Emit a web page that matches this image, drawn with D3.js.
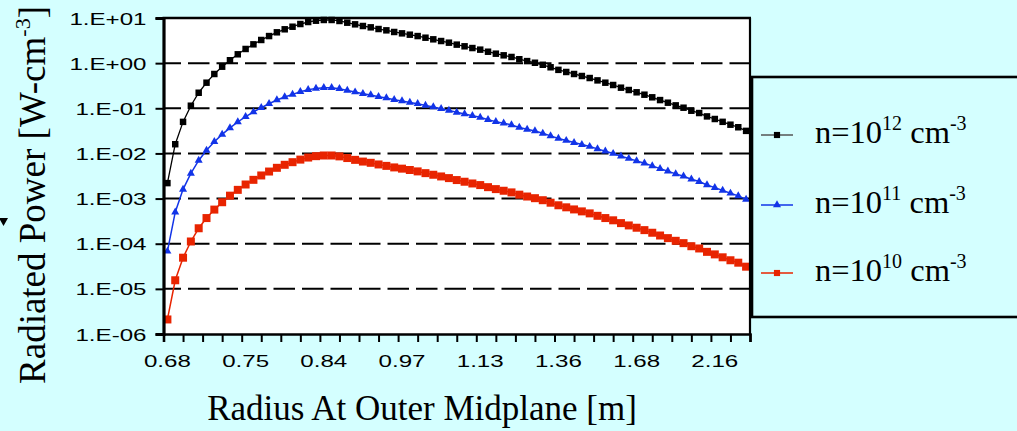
<!DOCTYPE html>
<html><head><meta charset="utf-8">
<script src="https://cdn.jsdelivr.net/npm/d3@7/dist/d3.min.js"></script>
<style>
html,body{margin:0;padding:0;background:#d4ffff;}
svg{display:block;}
</style></head>
<body>
<svg id="chart" width="1017" height="431"></svg>
<script>
// ---------- data ----------
const seriesNames = ["n=10^12", "n=10^11", "n=10^10"];
const legendExps = ["12", "11", "10"];
const xTickLabels = ["0.68", "0.75", "0.84", "0.97", "1.13", "1.36", "1.68", "2.16"];
const xLabelIndex = [0, 10, 20, 30, 40, 50, 60, 70];
const yTickValues = [1e-6, 1e-5, 1e-4, 1e-3, 1e-2, 1e-1, 1e0, 1e1];
const yTickLabels = ["1.E-06", "1.E-05", "1.E-04", "1.E-03", "1.E-02", "1.E-01", "1.E+00", "1.E+01"];

const n12 = [2.2e-3, 1.6e-2, 5.0e-2, 0.114, 0.221, 0.369, 0.575, 0.834, 1.16, 1.57,
  2.06, 2.61, 3.26, 3.98, 4.82, 5.62, 6.41, 7.36, 8.15, 8.71,
  9.04, 9.04, 8.59, 7.87, 7.24, 6.65, 6.21, 5.70, 5.33, 4.90,
  4.57, 4.27, 3.98, 3.66, 3.37, 3.09, 2.84, 2.57, 2.36, 2.16,
  1.99, 1.79, 1.62, 1.49, 1.37, 1.22, 1.11, 1.02, 0.92, 0.81,
  0.71, 0.637, 0.575, 0.519, 0.468, 0.415, 0.369, 0.328, 0.286, 0.254,
  0.226, 0.200, 0.175, 0.152, 0.133, 0.116, 0.103, 0.0883, 0.0785, 0.0661,
  0.0579, 0.0501, 0.0433, 0.0380, 0.0316];

const n11 = [6.8e-5, 5.0e-4, 1.6e-3, 3.6e-3, 7.0e-3, 1.17e-2, 1.82e-2, 2.64e-2, 3.67e-2, 4.97e-2,
  6.52e-2, 8.26e-2, 0.103, 0.126, 0.153, 0.178, 0.203, 0.233, 0.258, 0.276,
  0.286, 0.286, 0.272, 0.249, 0.229, 0.210, 0.197, 0.180, 0.169, 0.155,
  0.145, 0.135, 0.126, 0.116, 0.107, 0.0978, 0.0899, 0.0813, 0.0747, 0.0684,
  0.0630, 0.0559, 0.0506, 0.0466, 0.0428, 0.0375, 0.0342, 0.0314, 0.0279, 0.0245,
  0.0215, 0.0193, 0.0174, 0.0157, 0.0142, 0.0126, 0.0112, 0.00994, 0.00867, 0.00770,
  0.00685, 0.00606, 0.00530, 0.00461, 0.00403, 0.00352, 0.00312, 0.00268, 0.00238, 0.00200,
  0.00175, 0.00152, 0.00131, 0.00115, 0.00096];

const n10 = [2.1e-6, 1.55e-5, 4.9e-5, 1.12e-4, 2.2e-4, 3.7e-4, 5.7e-4, 8.3e-4, 1.16e-3, 1.56e-3,
  2.05e-3, 2.6e-3, 3.25e-3, 3.97e-3, 4.8e-3, 5.6e-3, 6.4e-3, 7.3e-3, 8.1e-3, 8.7e-3,
  9.0e-3, 9.0e-3, 8.6e-3, 7.9e-3, 7.2e-3, 6.6e-3, 6.2e-3, 5.7e-3, 5.3e-3, 4.9e-3,
  4.6e-3, 4.3e-3, 4.0e-3, 3.66e-3, 3.37e-3, 3.09e-3, 2.84e-3, 2.57e-3, 2.36e-3, 2.16e-3,
  1.99e-3, 1.79e-3, 1.62e-3, 1.49e-3, 1.37e-3, 1.22e-3, 1.11e-3, 1.02e-3, 9.2e-4, 8.1e-4,
  7.1e-4, 6.4e-4, 5.75e-4, 5.2e-4, 4.7e-4, 4.15e-4, 3.7e-4, 3.3e-4, 2.86e-4, 2.54e-4,
  2.26e-4, 2.0e-4, 1.75e-4, 1.52e-4, 1.33e-4, 1.16e-4, 1.03e-4, 8.8e-5, 7.85e-5, 6.6e-5,
  5.8e-5, 5.0e-5, 4.3e-5, 3.8e-5, 3.1e-5];

// ---------- layout ----------
const BG = "#d4ffff";
const pL = 163.5, pR = 750, pT = 18, pB = 334;
const nCat = n12.length;
const SX = 1.42; // horizontal stretch of tick fonts

const svg = d3.select("#chart");
svg.append("rect").attr("width", 1017).attr("height", 431).attr("fill", BG);

const x = d3.scaleLinear().domain([-0.5, nCat - 0.5]).range([pL, pR]);
const y = d3.scaleLog().domain([1e-6, 10]).range([pB, pT]);

// plot background
svg.append("rect").attr("x", pL).attr("y", pT).attr("width", pR - pL).attr("height", pB - pT).attr("fill", "#fff");

// gridlines
svg.append("g").selectAll("line").data(yTickValues.slice(1, -1)).join("line")
  .attr("x1", pL).attr("x2", pR)
  .attr("y1", d => y(d)).attr("y2", d => y(d))
  .attr("stroke", "#000").attr("stroke-width", 2)
  .attr("stroke-dasharray", "21.5,7").attr("stroke-dashoffset", 4);

// series
const series = [
  {data: n12, color: "#000000", sym: d3.symbolSquare, size: 42, lw: 1.3},
  {data: n11, color: "#1234e8", sym: d3.symbolTriangle, size: 28, lw: 1.5},
  {data: n10, color: "#e82400", sym: d3.symbolSquare, size: 64, lw: 1.5}
];
const line = d3.line().x((d, i) => x(i)).y(d => y(d));
series.slice().reverse().forEach(s => {
  const g = svg.append("g");
  g.append("path").datum(s.data).attr("d", line).attr("fill", "none")
    .attr("stroke", s.color).attr("stroke-width", s.lw);
  g.selectAll("path.m").data(s.data).join("path").attr("class", "m")
    .attr("transform", (d, i) => `translate(${x(i)},${y(d)})`)
    .attr("d", d3.symbol().type(s.sym).size(s.size))
    .attr("fill", s.color);
});

// frame
svg.append("line").attr("x1", pL - 1).attr("x2", pR + 1).attr("y1", pT).attr("y2", pT).attr("stroke", "#000").attr("stroke-width", 2.5);
svg.append("line").attr("x1", pR).attr("x2", pR).attr("y1", pT).attr("y2", pB).attr("stroke", "#000").attr("stroke-width", 2.2);

// y axis
const yAxis = d3.axisLeft(y).tickValues(yTickValues).tickSize(8).tickPadding(9)
  .tickFormat((d, i) => yTickLabels[i]);
const gy = svg.append("g").attr("transform", `translate(${pL},0)`).call(yAxis);
gy.select(".domain").attr("stroke-width", 3.2);
gy.selectAll(".tick line").attr("stroke-width", 2);
gy.selectAll(".tick text")
  .attr("font-family", "Liberation Sans, Arial, sans-serif").attr("font-size", 17).attr("fill", "#000")
  .attr("x", -17 / SX).attr("transform", `scale(${SX},1)`).attr("dy", "0.36em");

// x axis ticks
const xTickIdx = d3.range(0, 31).map(k => -0.5 + 2.5 * k);
const xAxis = d3.axisBottom(x).tickValues(xTickIdx).tickSize(8).tickFormat("");
const gx = svg.append("g").attr("transform", `translate(0,${pB})`).call(xAxis);
gx.select(".domain").attr("stroke-width", 2.6);
gx.selectAll(".tick line").attr("stroke-width", 2);

// x labels
const xLab = d3.axisBottom(x).tickValues(xLabelIndex).tickSize(0).tickPadding(21)
  .tickFormat((d, i) => xTickLabels[i]);
const gxl = svg.append("g").attr("transform", `translate(0,${pB})`).call(xLab);
gxl.select(".domain").remove();
gxl.selectAll(".tick").each(function(d) {
  const g = d3.select(this);
  g.attr("transform", `scale(${SX},1)`);
  g.select("text").attr("x", x(d) / SX)
    .attr("font-family", "Liberation Sans, Arial, sans-serif").attr("font-size", 17).attr("fill", "#000");
});

// axis titles
svg.append("text").attr("x", 422).attr("y", 420).attr("text-anchor", "middle")
  .attr("font-family", "Liberation Serif, Times New Roman, serif").attr("font-size", 35).attr("fill", "#000")
  .text("Radius At Outer Midplane [m]");

const yt = svg.append("text").attr("transform", "translate(45,195) rotate(-90)").attr("text-anchor", "middle")
  .attr("font-family", "Liberation Serif, Times New Roman, serif").attr("font-size", 37).attr("fill", "#000");
yt.append("tspan").text("Radiated Power [W-cm");
yt.append("tspan").attr("font-size", 22).attr("dy", -15).text("-3");
yt.append("tspan").attr("dy", 15).text("]");

// small arrow mark
svg.append("path").attr("d", "M-1,218 L8,218 L3.5,226 Z").attr("fill", "#000");

// legend
svg.append("rect").attr("x", 752).attr("y", 77).attr("width", 300).attr("height", 240)
  .attr("fill", BG).attr("stroke", "#000").attr("stroke-width", 2.6);
const legY = [135, 205, 273];
series.forEach((s, i) => {
  const g = svg.append("g").attr("transform", `translate(0,${legY[i]})`);
  g.append("line").attr("x1", 761).attr("x2", 793).attr("stroke", i === 0 ? "#555" : s.color).attr("stroke-width", 1.5);
  g.append("path").attr("transform", "translate(777,0)")
    .attr("d", d3.symbol().type(s.sym).size(i === 1 ? 28 : 38)).attr("fill", s.color);
  const t = g.append("text").attr("x", 815).attr("y", 8)
    .attr("font-family", "Liberation Serif, Times New Roman, serif").attr("font-size", 32.5).attr("fill", "#000");
  t.append("tspan").text("n=10");
  t.append("tspan").attr("font-size", 20).attr("dy", -13).text(legendExps[i]);
  t.append("tspan").attr("dy", 13).text(" cm");
  t.append("tspan").attr("font-size", 20).attr("dy", -13).text("-3");
});
</script>
</body></html>
